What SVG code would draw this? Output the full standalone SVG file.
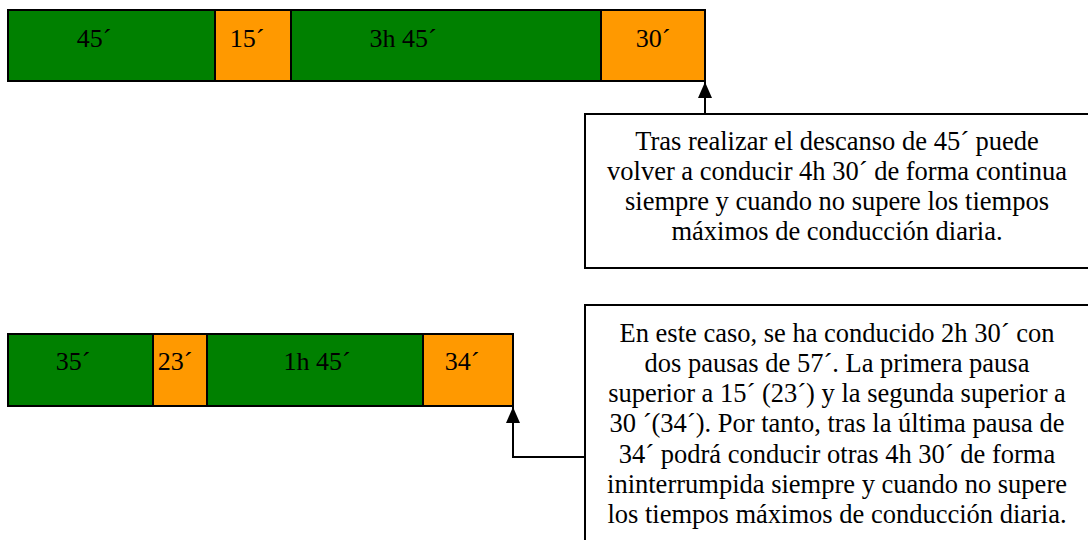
<svg xmlns="http://www.w3.org/2000/svg" width="1088" height="540" viewBox="0 0 1088 540">
  <defs>
    <style>
      .drive { fill: #008000; stroke: #000; stroke-width: 2; }
      .pause { fill: #FF9900; stroke: #000; stroke-width: 2; }
      .box { fill: #fff; stroke: #000; stroke-width: 2; }
      .lbl { font-family: "Liberation Serif", "Times New Roman", serif; font-size: 26px; fill: #000; text-anchor: middle; }
      .note { font-family: "Liberation Serif", "Times New Roman", serif; font-size: 26.5px; fill: #000; text-anchor: middle; }
      .conn { fill: none; stroke: #000; stroke-width: 2; }
    </style>
    <marker id="arrow" viewBox="0 0 16 14" refX="16" refY="7" markerWidth="16" markerHeight="14" markerUnits="userSpaceOnUse" orient="auto">
      <path d="M0,0 L16,7 L0,14 Z" fill="#000"/>
    </marker>
  </defs>
  <rect width="1088" height="540" fill="#fff"/>

  <g id="bar1">
    <g id="seg1a"><rect class="drive" x="8" y="10" width="207" height="71"/><text class="lbl" x="94" y="47">45´</text></g>
    <g id="seg1b"><rect class="pause" x="215" y="10" width="76" height="71"/><text class="lbl" x="247" y="47">15´</text></g>
    <g id="seg1c"><rect class="drive" x="291" y="10" width="310" height="71"/><text class="lbl" x="403" y="47">3h 45´</text></g>
    <g id="seg1d"><rect class="pause" x="601" y="10" width="104" height="71"/><text class="lbl" x="653" y="47">30´</text></g>
  </g>

  <g id="bar2">
    <g id="seg2a"><rect class="drive" x="8" y="334" width="145" height="72"/><text class="lbl" x="73" y="370">35´</text></g>
    <g id="seg2b"><rect class="pause" x="153" y="334" width="54" height="72"/><text class="lbl" x="175" y="370">23´</text></g>
    <g id="seg2c"><rect class="drive" x="207" y="334" width="216" height="72"/><text class="lbl" x="317" y="370">1h 45´</text></g>
    <g id="seg2d"><rect class="pause" x="423" y="334" width="90" height="72"/><text class="lbl" x="462" y="370">34´</text></g>
  </g>

  <g id="note1">
    <rect class="box" x="585" y="114" width="510" height="154"/>
    <text class="note" x="837" y="150">Tras realizar el descanso de 45´ puede</text>
    <text class="note" x="837" y="180">volver a conducir 4h 30´ de forma continua</text>
    <text class="note" x="837" y="210">siempre y cuando no supere los tiempos</text>
    <text class="note" x="837" y="240">máximos de conducción diaria.</text>
  </g>

  <g id="note2">
    <rect class="box" x="585" y="305" width="510" height="245"/>
    <text class="note" x="837" y="342">En este caso, se ha conducido 2h 30´ con</text>
    <text class="note" x="837" y="372">dos pausas de 57´. La primera pausa</text>
    <text class="note" x="837" y="402">superior a 15´ (23´) y la segunda superior a</text>
    <text class="note" x="837" y="432">30 ´(34´). Por tanto, tras la última pausa de</text>
    <text class="note" x="837" y="463">34´ podrá conducir otras 4h 30´ de forma</text>
    <text class="note" x="837" y="493">ininterrumpida siempre y cuando no supere</text>
    <text class="note" x="837" y="523">los tiempos máximos de conducción diaria.</text>
  </g>

  <g id="connectors">
    <path class="conn" d="M705,114 L705,82" marker-end="url(#arrow)"/>
    <path class="conn" d="M585,457 L513,457 L513,407" marker-end="url(#arrow)"/>
  </g>
</svg>
